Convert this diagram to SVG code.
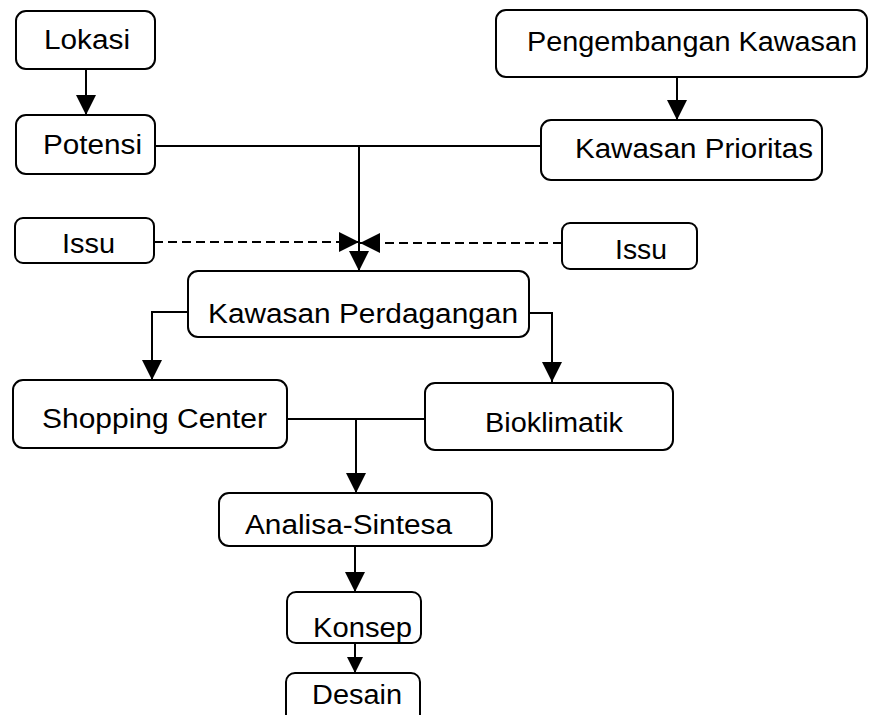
<svg xmlns="http://www.w3.org/2000/svg" width="870" height="715" viewBox="0 0 870 715">
<style>
.box{fill:#fff;stroke:#000;stroke-width:2}
.t{font-family:"Liberation Sans",Arial,sans-serif;font-size:27px;fill:#000}
.ln{fill:none;stroke:#000;stroke-width:2}
.dash{stroke-dasharray:9,5}
</style>
<defs>
<marker id="ah" viewBox="0 0 20 20" refX="20" refY="10" markerWidth="20" markerHeight="20" markerUnits="userSpaceOnUse" orient="auto">
<path d="M0,0 L20,10 L0,20 z" fill="#000"/>
</marker>
<marker id="ahs" viewBox="0 0 20 20" refX="20" refY="10" markerWidth="16" markerHeight="16" markerUnits="userSpaceOnUse" orient="auto">
<path d="M0,0 L20,10 L0,20 z" fill="#000"/>
</marker>
</defs>
<rect width="870" height="715" fill="#fff"/>
<g id="connectors">
<line class="ln" x1="86" y1="69" x2="86" y2="115" marker-end="url(#ah)"/>
<line class="ln" x1="677" y1="77" x2="677" y2="120" marker-end="url(#ah)"/>
<line class="ln" x1="155" y1="146" x2="541" y2="146"/>
<line class="ln" x1="359" y1="146" x2="359" y2="271" marker-end="url(#ah)"/>
<line class="ln dash" x1="154" y1="242" x2="359" y2="242" marker-end="url(#ah)"/>
<line class="ln dash" x1="562" y1="243" x2="360" y2="243" marker-end="url(#ah)"/>
<polyline class="ln" points="188,312 152,312 152,380" marker-end="url(#ah)"/>
<polyline class="ln" points="529,313 552,313 552,382" marker-end="url(#ah)"/>
<line class="ln" x1="287" y1="419" x2="425" y2="419"/>
<line class="ln" x1="356" y1="419" x2="356" y2="493" marker-end="url(#ah)"/>
<line class="ln" x1="355" y1="546" x2="355" y2="592" marker-end="url(#ah)"/>
<line class="ln" x1="355" y1="643" x2="355" y2="673" marker-end="url(#ahs)"/>
</g>
<g id="lokasi"><rect class="box" x="16" y="11" width="139" height="58" rx="10"/><text class="t" x="44" y="49" textLength="86" lengthAdjust="spacingAndGlyphs">Lokasi</text></g>
<g id="potensi"><rect class="box" x="16" y="115" width="139" height="59" rx="10"/><text class="t" x="43" y="154" textLength="99" lengthAdjust="spacingAndGlyphs">Potensi</text></g>
<g id="pengembangan"><rect class="box" x="496" y="10" width="371" height="67" rx="10"/><text class="t" x="527" y="51" textLength="330" lengthAdjust="spacingAndGlyphs">Pengembangan Kawasan</text></g>
<g id="prioritas"><rect class="box" x="541" y="120" width="281" height="60" rx="10"/><text class="t" x="575" y="158" textLength="238" lengthAdjust="spacingAndGlyphs">Kawasan Prioritas</text></g>
<g id="issu-left"><rect class="box" x="15" y="218" width="139" height="45" rx="8"/><text class="t" x="62" y="253" textLength="53" lengthAdjust="spacingAndGlyphs">Issu</text></g>
<g id="issu-right"><rect class="box" x="562" y="223" width="135" height="46" rx="8"/><text class="t" x="615" y="259" textLength="52" lengthAdjust="spacingAndGlyphs">Issu</text></g>
<g id="perdagangan"><rect class="box" x="188" y="271" width="341" height="66" rx="10"/><text class="t" x="208" y="323" textLength="310" lengthAdjust="spacingAndGlyphs">Kawasan Perdagangan</text></g>
<g id="shopping"><rect class="box" x="13" y="380" width="274" height="68" rx="10"/><text class="t" x="42" y="428" textLength="225" lengthAdjust="spacingAndGlyphs">Shopping Center</text></g>
<g id="bioklimatik"><rect class="box" x="425" y="383" width="248" height="67" rx="10"/><text class="t" x="485" y="432" textLength="138" lengthAdjust="spacingAndGlyphs">Bioklimatik</text></g>
<g id="analisa"><rect class="box" x="219" y="493" width="273" height="53" rx="10"/><text class="t" x="245" y="534" textLength="207" lengthAdjust="spacingAndGlyphs">Analisa-Sintesa</text></g>
<g id="konsep"><rect class="box" x="287" y="592" width="134" height="51" rx="9"/><text class="t" x="313" y="637" textLength="99" lengthAdjust="spacingAndGlyphs">Konsep</text></g>
<g id="desain"><rect class="box" x="286" y="673" width="134" height="50" rx="9"/><text class="t" x="312" y="704" textLength="90" lengthAdjust="spacingAndGlyphs">Desain</text></g>
</svg>
